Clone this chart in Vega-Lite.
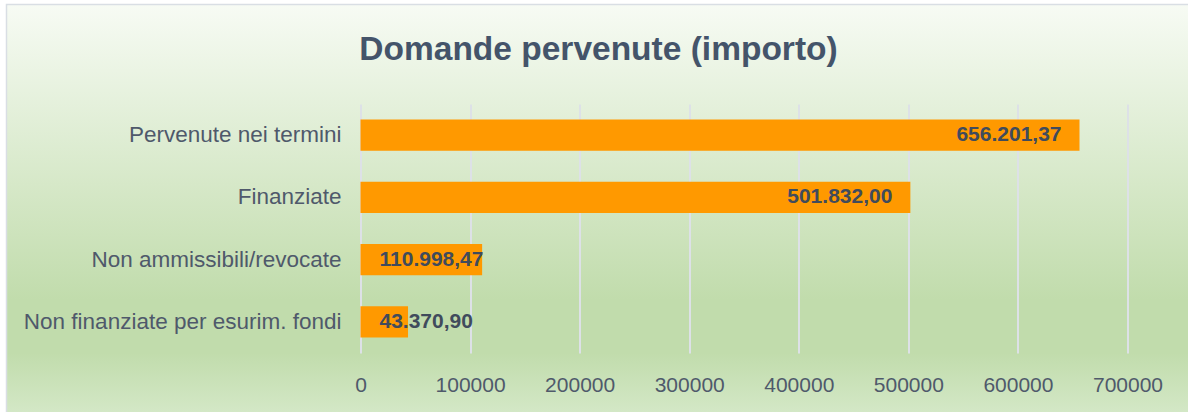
{
  "$schema": "https://vega.github.io/schema/vega-lite/v6.json",
  "width": 1184,
  "height": 410,
  "autosize": {"type": "none"},
  "padding": {"left": 6.5, "top": 4.5, "right": 0, "bottom": 0},
  "background": "white",
  "title": {
    "text": "Domande pervenute (importo)",
    "anchor": "middle",
    "offset": -63,
    "font": "Liberation Sans",
    "fontSize": 33.5,
    "fontWeight": "bold",
    "color": "#44546a"
  },
  "data": {
    "values": [
      {"cat": "Pervenute nei termini", "value": 656201.37},
      {"cat": "Finanziate", "value": 501832.00},
      {"cat": "Non ammissibili/revocate", "value": 110998.47},
      {"cat": "Non finanziate per esurim. fondi", "value": 43370.90}
    ]
  },
  "config": {
    "locale": {"number": {"decimal": ",", "thousands": ".", "grouping": [3], "currency": ["€", ""]}},
    "view": {
      "fill": {
        "gradient": "linear", "x1": 0, "y1": 0, "x2": 0, "y2": 1,
        "stops": [
          {"offset": 0, "color": "#f7fbf4"},
          {"offset": 0.72, "color": "#c1dcac"},
          {"offset": 0.85, "color": "#c1dcac"},
          {"offset": 1, "color": "#d4e8c7"}
        ]
      },
      "stroke": "#d9dee4",
      "strokeWidth": 1.5
    },
    "text": {"font": "Liberation Sans"}
  },
  "encoding": {
    "y": {
      "field": "cat",
      "type": "nominal",
      "sort": null,
      "scale": {"range": [99.5, 348.5], "paddingInner": 0.5, "paddingOuter": 0.25},
      "axis": {
        "title": null,
        "domain": false,
        "ticks": false,
        "tickSize": 0,
        "labelPadding": 0,
        "offset": -334.5,
        "grid": false,
        "labelFont": "Liberation Sans",
        "labelFontSize": 22.5,
        "labelColor": "#4f596b",
        "labelLimit": 0
      }
    }
  },
  "layer": [
    {
      "mark": {"type": "bar", "color": "#ff9900"},
      "encoding": {
        "x": {
          "field": "value",
          "type": "quantitative",
          "scale": {"domain": [0, 700000], "range": [354, 1121], "nice": false},
          "axis": {
            "values": [0, 100000, 200000, 300000, 400000, 500000, 600000, 700000],
            "format": "d",
            "title": null,
            "domain": false,
            "grid": false,
            "ticks": true,
            "tickSize": -249,
            "tickColor": "#dde1e7",
            "tickWidth": 2,
            "labelPadding": 281,
            "labelBaseline": "middle",
            "labelFlush": false,
            "offset": -61.5,
            "labelFont": "Liberation Sans",
            "labelFontSize": 21,
            "labelColor": "#4f596b"
          }
        }
      }
    },
    {
      "transform": [{"filter": "datum.value > 200000"}],
      "mark": {"type": "text", "align": "right", "baseline": "middle", "dx": -18, "fontSize": 21, "fontWeight": "bold", "color": "#404b5c"},
      "encoding": {
        "x": {"field": "value", "type": "quantitative"},
        "text": {"field": "value", "type": "quantitative", "format": ",.2f"}
      }
    },
    {
      "transform": [{"filter": "datum.value <= 200000"}],
      "mark": {"type": "text", "align": "left", "baseline": "middle", "dx": 19, "fontSize": 21, "fontWeight": "bold", "color": "#404b5c"},
      "encoding": {
        "x": {"datum": 0, "type": "quantitative"},
        "text": {"field": "value", "type": "quantitative", "format": ",.2f"}
      }
    }
  ]
}
